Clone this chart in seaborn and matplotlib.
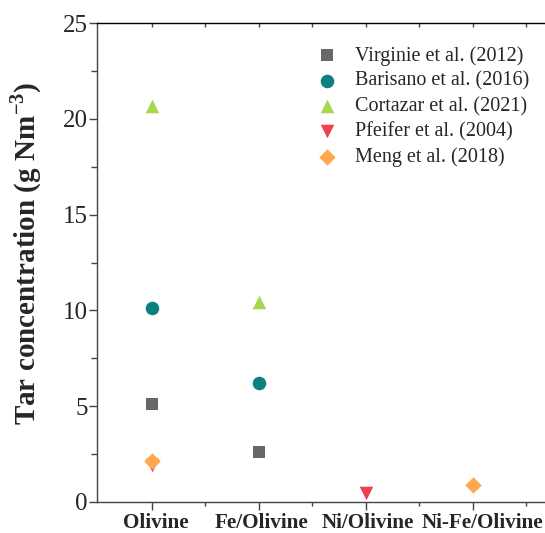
import matplotlib
matplotlib.use("Agg")
import matplotlib.pyplot as plt
from matplotlib.ticker import MultipleLocator, FixedLocator
from matplotlib.transforms import ScaledTranslation
import seaborn as sns
import pandas as pd

categories = ["Olivine", "Fe/Olivine", "Ni/Olivine", "Ni-Fe/Olivine"]
sources = ["Virginie et al. (2012)", "Barisano et al. (2016)", "Cortazar et al. (2021)",
           "Pfeifer et al. (2004)", "Meng et al. (2018)"]

virginie_cat = ["Olivine", "Fe/Olivine"]
virginie_val = [5.1, 2.6]
barisano_cat = ["Olivine", "Fe/Olivine"]
barisano_val = [10.1, 6.2]
cortazar_cat = ["Olivine", "Fe/Olivine"]
cortazar_val = [20.65, 10.45]
pfeifer_cat = ["Olivine", "Ni/Olivine"]
pfeifer_val = [1.95, 0.45]
meng_cat = ["Olivine", "Ni-Fe/Olivine"]
meng_val = [2.12, 0.88]

colors = ["#676767", "#0b8080", "#a8d64c", "#f0404e", "#ffa84e"]
markers = ["s", "o", "^", "v", "D"]
sizes = [70, 95, 95, 95, 70]

rows = []
for src, cats, vals in zip(sources,
                           [virginie_cat, barisano_cat, cortazar_cat, pfeifer_cat, meng_cat],
                           [virginie_val, barisano_val, cortazar_val, pfeifer_val, meng_val]):
    for c, v in zip(cats, vals):
        rows.append({"Source": src, "Catalyst": c, "Tar": v})
df = pd.DataFrame(rows)
df["x"] = df["Catalyst"].map({c: i for i, c in enumerate(categories)})

sns.set_style("white")
plt.rcParams["font.family"] = ["Liberation Serif", "DejaVu Serif"]
plt.rcParams["mathtext.fontset"] = "custom"
plt.rcParams["mathtext.rm"] = "Liberation Serif"
plt.rcParams["mathtext.bf"] = "Liberation Serif:bold"

fig = plt.figure(figsize=(5.45, 5.33), dpi=100)
ax = fig.add_axes([97 / 545, 1 - 502 / 533, (545 - 97) / 545, (502 - 23) / 533])

for src, col, mk, sz in zip(sources, colors, markers, sizes):
    sub = df[df["Source"] == src]
    sns.scatterplot(data=sub, x="x", y="Tar", ax=ax, color=col, marker=mk, s=sz,
                    linewidth=0, label=src, zorder=3 if mk != "v" else 2)

ax.set_xlim(-0.514, 3.673)
ax.set_ylim(0, 25)
ax.xaxis.set_major_locator(FixedLocator(range(len(categories))))
ax.set_xticklabels(categories, fontsize=15.2, fontweight="bold")
ax.xaxis.set_minor_locator(FixedLocator([0.5, 1.5, 2.5, 3.5]))
ax.yaxis.set_major_locator(MultipleLocator(5))
ax.yaxis.set_minor_locator(MultipleLocator(2.5))
ax.tick_params(axis="y", which="major", direction="out", length=6, width=1,
               labelsize=18, left=True, right=False, color="#444444", pad=0.5)
ax.tick_params(axis="y", which="minor", direction="out", length=4, width=1,
               left=True, right=False, color="#444444")
ax.tick_params(axis="x", which="major", direction="out", length=6, width=1,
               bottom=True, top=True, color="#444444", pad=2)
ax.tick_params(axis="x", which="minor", direction="out", length=3, width=1,
               bottom=True, top=True, color="#444444")
for t in ax.xaxis.get_major_ticks() + ax.xaxis.get_minor_ticks():
    t.tick2line.set_marker(3)
    t.tick2line.set_markersize(3)
label_shift_px = [4, 3, 2, 9]
for lab, dx in zip(ax.get_xticklabels(), label_shift_px):
    lab.set_transform(lab.get_transform() + ScaledTranslation(dx / 100, 0, fig.dpi_scale_trans))

ax.set_xlabel("")
ax.set_ylabel(r"Tar concentration (g Nm$^{\mathbf{-3}}$)", fontsize=21, fontweight="bold")
ax.yaxis.set_label_coords(-0.118, 0.518)

for side in ["left", "bottom", "top"]:
    ax.spines[side].set_visible(True)
    ax.spines[side].set_linewidth(1)
ax.spines["left"].set_color("#444444")
ax.spines["bottom"].set_color("#444444")
ax.spines["top"].set_color("black")
ax.spines["right"].set_visible(False)

leg = ax.legend(loc="upper right", bbox_to_anchor=(1.005, 0.99), frameon=False,
                fontsize=14.5, labelspacing=0.3, handletextpad=0.4, markerscale=1.0)

fig.savefig("out.png", dpi=100)
